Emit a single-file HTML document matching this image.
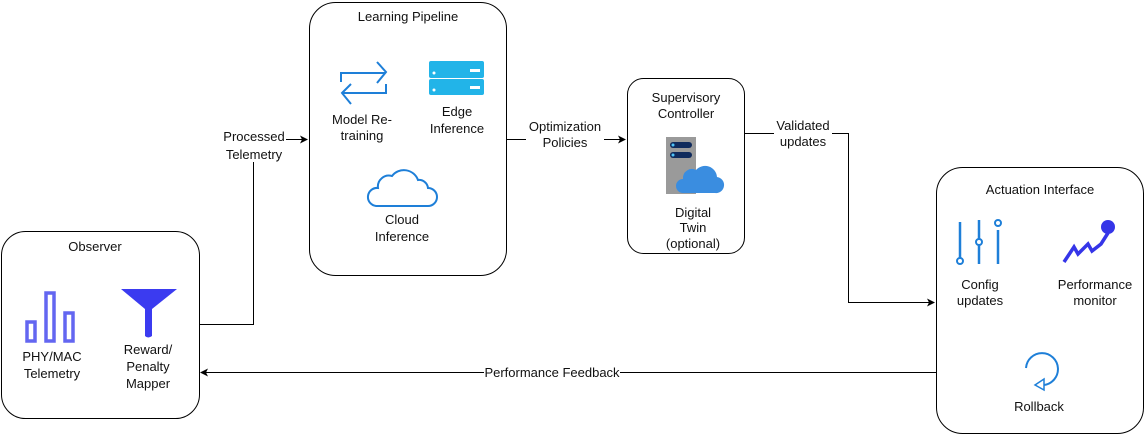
<!DOCTYPE html>
<html><head><meta charset="utf-8"><style>
body{margin:0;background:#fff;}
svg text{font-family:"Liberation Sans",Arial,sans-serif;font-size:13px;fill:#111;text-anchor:middle;}
</style></head><body>
<svg width="1146" height="442" viewBox="0 0 1146 442" xmlns="http://www.w3.org/2000/svg">
<defs><marker id="a" markerWidth="8" markerHeight="8" refX="7" refY="4" orient="auto" markerUnits="userSpaceOnUse"><path d="M0,0 L8,4 L0,8 L2,4 Z" fill="#000"/></marker></defs>
<g fill="none" stroke="#000" stroke-width="1">
<rect x="1.5" y="231.5" width="198" height="187" rx="24"/>
<rect x="309.5" y="2.5" width="197" height="273" rx="26"/>
<rect x="627.5" y="78.5" width="117" height="175" rx="16"/>
<rect x="936.5" y="167.5" width="207" height="266" rx="26"/>
<path d="M199.5,324.5 H253.5 V139.5 H307" marker-end="url(#a)"/>
<path d="M506.5,139.5 H625" marker-end="url(#a)"/>
<path d="M744.5,133.5 H848.5 V302.5 H934" marker-end="url(#a)"/>
<path d="M936,372.5 H201" marker-end="url(#a)"/>
</g>
<rect x="222" y="128" width="64" height="34" fill="#fff"/>
<text x="254" y="141">Processed</text><text x="254" y="159">Telemetry</text>
<rect x="526" y="118" width="78" height="34" fill="#fff"/>
<text x="565" y="131">Optimization</text><text x="565" y="147">Policies</text>
<rect x="774" y="118" width="58" height="30" fill="#fff"/>
<text x="803" y="130">Validated</text><text x="803" y="146">updates</text>
<rect x="484" y="366" width="136" height="14" fill="#fff"/>
<text x="552" y="377">Performance Feedback</text>

<text x="95" y="251">Observer</text>
<g fill="none" stroke="#6366f1" stroke-width="3.5"><rect x="27" y="322" width="8" height="19"/><rect x="46" y="293" width="8" height="48"/><rect x="65" y="313" width="8" height="28"/></g>
<text x="52" y="361">PHY/MAC</text><text x="52" y="378">Telemetry</text>
<path d="M121,289 H177 L152,309 V336 Q148,339 145,336 V309 Z" fill="#3b3bf0"/>
<text x="148" y="354">Reward/</text><text x="148" y="371">Penalty</text><text x="148" y="388">Mapper</text>

<text x="408" y="21">Learning Pipeline</text>
<g fill="none" stroke="#1e7fd8" stroke-width="2"><path d="M341,82 V73 H385 M377,62 L386,72 L377,83"/><path d="M386,84 V93 H342 M351,84 L342,93 L351,104"/></g>
<text x="362" y="124">Model Re-</text><text x="362" y="140">training</text>
<rect x="429" y="61" width="55" height="17" rx="2" fill="#22b4e8"/><rect x="429" y="79" width="55" height="16" rx="2" fill="#22b4e8"/>
<g fill="#fff"><circle cx="434" cy="73" r="1.5"/><circle cx="434" cy="90" r="1.5"/><rect x="470" y="69" width="10" height="3"/><rect x="470" y="86" width="10" height="3"/></g>
<text x="457" y="116">Edge</text><text x="457" y="133">Inference</text>
<path d="M376,206 H428 A8,8 0 0 0 428,188 A9,9 0 0 0 418,180 A15,15 0 0 0 392,176 A11,11 0 0 0 378,188 A9,9 0 0 0 376,206 Z" fill="none" stroke="#1e7fd8" stroke-width="2"/>
<text x="402" y="224">Cloud</text><text x="402" y="241">Inference</text>

<text x="686" y="102">Supervisory</text><text x="686" y="118">Controller</text>
<rect x="666" y="137" width="30" height="57" fill="#9a9a9a"/>
<rect x="670" y="142" width="22" height="6" rx="3" fill="#0f2a5c"/><rect x="670" y="152" width="22" height="6" rx="3" fill="#0f2a5c"/>
<circle cx="673" cy="145" r="1.5" fill="#4fc3f7"/><circle cx="673" cy="155" r="1.5" fill="#4fc3f7"/>
<path d="M683,193 H715 A8,8 0 0 0 717,177 A12,12 0 0 0 696,170 A9,9 0 0 0 683,179 A7,7 0 0 0 683,193 Z" fill="#3a8de0"/>
<text x="693" y="217">Digital</text><text x="693" y="232">Twin</text><text x="693" y="248">(optional)</text>

<text x="1040" y="194">Actuation Interface</text>
<g stroke="#1e7fd8" stroke-width="2.5" fill="none"><line x1="960" y1="222" x2="960" y2="260"/><line x1="979" y1="220" x2="979" y2="264"/><line x1="998" y1="230" x2="998" y2="264"/>
<circle cx="960" cy="261" r="3" fill="#fff" stroke-width="2"/><circle cx="979" cy="242" r="3" fill="#fff" stroke-width="2"/><circle cx="998" cy="223" r="3" fill="#fff" stroke-width="2"/></g>
<text x="980" y="289">Config</text><text x="980" y="305">updates</text>
<path d="M1064,262 L1074,247 L1078,254 L1088,244 L1092,251 L1101,244 L1108,233" fill="none" stroke="#3535e8" stroke-width="3.5"/>
<circle cx="1108" cy="227" r="7" fill="#3535e8"/>
<text x="1095" y="289">Performance</text><text x="1095" y="305">monitor</text>
<path d="M1026,368 A16,16 0 1 1 1044,385" fill="none" stroke="#1e7fd8" stroke-width="2"/>
<path d="M1035,385 L1044,379 L1044,390 Z" fill="#fff" stroke="#1e7fd8" stroke-width="1.5"/>
<text x="1039" y="411">Rollback</text>
</svg>
</body></html>
